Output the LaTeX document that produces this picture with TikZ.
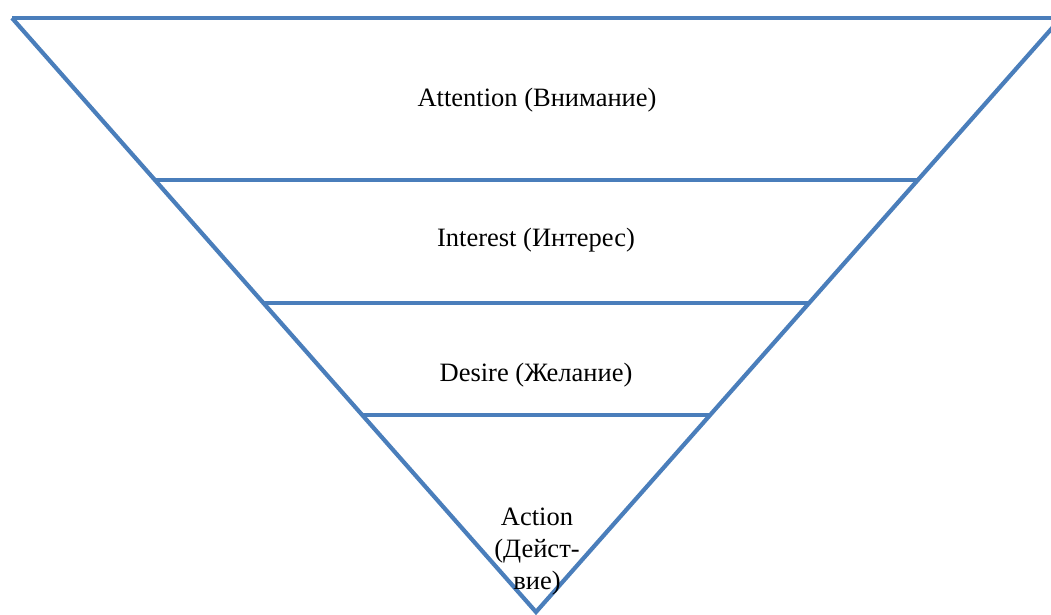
\documentclass[tikz,border=0pt]{standalone}
\usepackage{fontspec}
\setmainfont{Liberation Serif}
\definecolor{funnelblue}{RGB}{74,126,187}
\begin{document}
\begin{tikzpicture}[x=1pt,y=-1pt,
  edge/.style={draw=funnelblue,line width=4.2pt,line join=miter},
  band/.style={draw=funnelblue,line width=3.4pt},
  label/.style={font=\fontsize{26.5}{32}\selectfont,text=black,align=center,inner sep=0pt}]
\useasboundingbox (0,0) rectangle (1051,615);
\coordinate (tl) at (12,18);
\coordinate (tr) at (1061,18);
\coordinate (apex) at (536,612);
\coordinate (l1) at (155,180); \coordinate (r1) at (918,180);
\coordinate (l2) at (263,303); \coordinate (r2) at (809,303);
\coordinate (l3) at (362,415); \coordinate (r3) at (711,415);
\draw[band] (tl) -- (tr);
\draw[band] (l1) -- (r1);
\draw[band] (l2) -- (r2);
\draw[band] (l3) -- (r3);
\draw[edge] (tl) -- (apex) -- (tr);
\node[label] (attention) at (537,100) {Attention (Внимание)};
\node[label] (interest) at (536,240) {Interest (Интерес)};
\node[label] (desire) at (536,375) {Desire (Желание)};
\node[label] (action) at (537,552) {Action\\(Дейст-\\вие)};
\end{tikzpicture}
\end{document}
